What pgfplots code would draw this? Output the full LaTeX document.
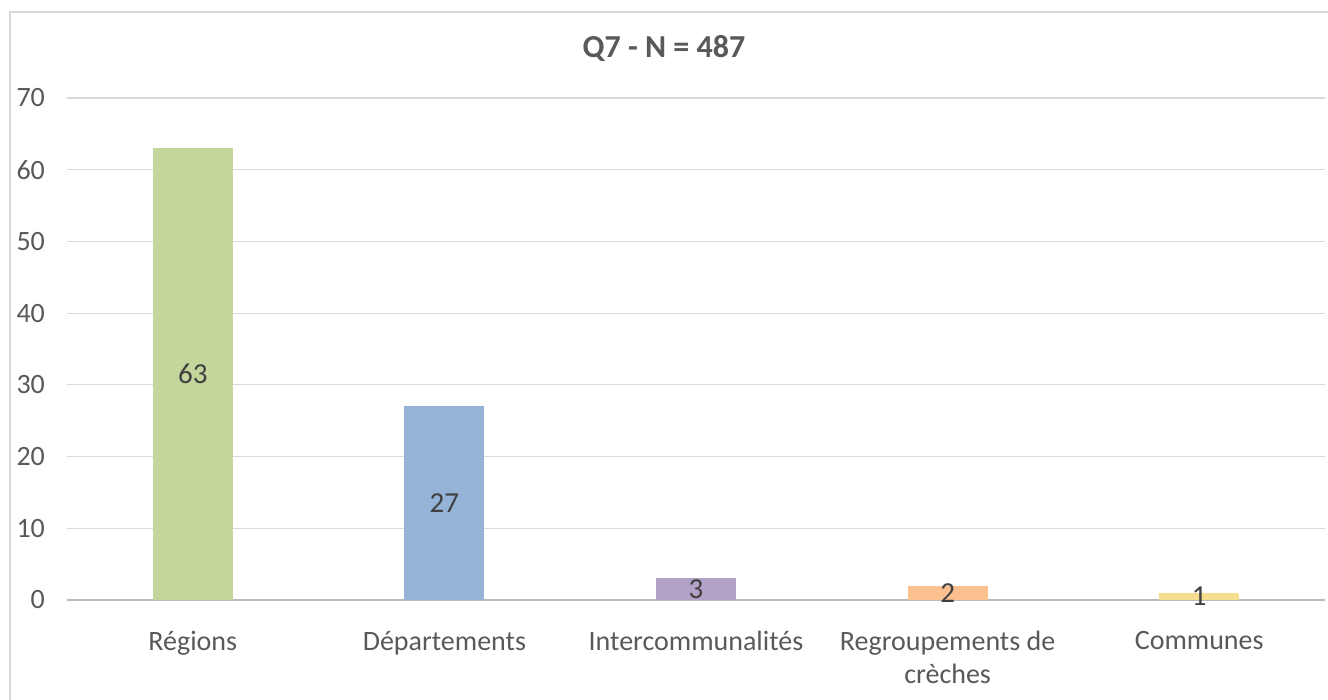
\documentclass[border=0pt]{standalone}
\usepackage{pgfplots}
\pgfplotsset{compat=1.18}
\usepackage{pgfplotstable}
\usepackage{fontspec}
\setmainfont{Carlito}
\definecolor{cgreen}{HTML}{C3D69B}
\definecolor{cblue}{HTML}{95B3D7}
\definecolor{cpurple}{HTML}{B3A2C7}
\definecolor{corange}{HTML}{FAC090}
\definecolor{cyellow}{HTML}{F7DE8F}
\definecolor{txt}{HTML}{595959}
\definecolor{lbl}{HTML}{404040}
\definecolor{gridc}{HTML}{D9D9D9}
\pgfplotstableread{
x y half
0 63 31.5
1 27 13.5
2 3 1.5
3 2 1.0
4 1 0.5
}\datatable
\begin{document}
\begin{tikzpicture}
\path[use as bounding box] (-33.5pt,-50pt) rectangle (630.5pt,300pt);
\draw[gridc, line width=0.6pt] (-28.5pt,-60pt) -- (-28.5pt,294pt) -- (640pt,294pt);
\node[font=\fontsize{16pt}{19pt}\selectfont\bfseries, text=txt] at (298.5pt,276pt) {Q7 - N = 487};
\begin{axis}[
  at={(0,0)}, anchor=south west,
  scale only axis, width=629pt, height=251pt,
  xmin=-0.5, xmax=4.5, ymin=0, ymax=70,
  ytick={0,10,...,70},
  xtick={0,1,2,3,4},
  xticklabels={Régions,Départements,Intercommunalités,{Regroupements de\\crèches},Communes},
  axis lines*=left,
  x axis line style={draw=gray!55, line width=0.6pt},
  y axis line style={draw=none},
  ymajorgrids, grid style={gridc, line width=0.6pt},
  major tick length=0pt,
  /pgf/number format/assume math mode=true,
  tick label style={font=\fontsize{14pt}{16.5pt}\selectfont, text=txt},
  yticklabel style={xshift=-7.5pt},
  xticklabel style={align=center, yshift=-12pt},
  ybar, bar width=40pt,
  clip=false,
]
\addplot[fill=cgreen, draw=none, bar shift=0pt] table[x=x, y=y, restrict expr to domain={\thisrow{x}}{0:0}] {\datatable};
\addplot[fill=cblue, draw=none, bar shift=0pt] table[x=x, y=y, restrict expr to domain={\thisrow{x}}{1:1}] {\datatable};
\addplot[fill=cpurple, draw=none, bar shift=0pt] table[x=x, y=y, restrict expr to domain={\thisrow{x}}{2:2}] {\datatable};
\addplot[fill=corange, draw=none, bar shift=0pt] table[x=x, y=y, restrict expr to domain={\thisrow{x}}{3:3}] {\datatable};
\addplot[fill=cyellow, draw=none, bar shift=0pt] table[x=x, y=y, restrict expr to domain={\thisrow{x}}{4:4}] {\datatable};
\addplot[draw=none, mark=none, sharp plot, nodes near coords, point meta=explicit,
  nodes near coords style={anchor=center, font=\fontsize{14.5pt}{16pt}\selectfont, text=lbl}]
  table[x=x, y=half, meta=y] {\datatable};
\end{axis}
\end{tikzpicture}
\end{document}
